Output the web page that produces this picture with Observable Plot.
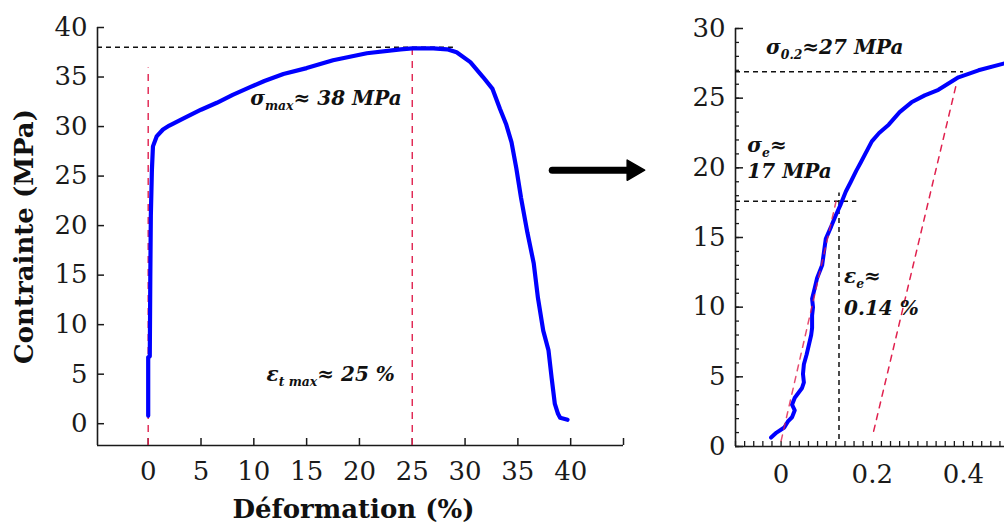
<!DOCTYPE html>
<html><head><meta charset="utf-8">
<script src="https://cdn.jsdelivr.net/npm/d3@7"></script>
<script src="https://cdn.jsdelivr.net/npm/@observablehq/plot@0.6"></script>
<style>
html,body{margin:0;padding:0;background:#fff;}
#wrap{position:relative;width:1004px;height:528px;overflow:hidden;background:#fff;}
#left{position:absolute;left:0;top:0;}
#right{position:absolute;left:650px;top:0;}
</style></head><body><div id="wrap"><div id="left"></div><div id="right"></div></div>
<script>
// ---- Left panel: full tensile curve (strain %, stress MPa)
const leftStrain = [0, 0, 0.15, 0.2, 0.25, 0.35, 0.45, 0.8, 1.4, 2, 3.3, 5, 6.5, 8, 9.7, 11, 12.8, 15, 17.5, 20.7, 23.9, 25, 27, 28.3, 29.2, 30.5, 31.7, 32.6, 33.3, 33.9, 34.4, 34.85, 35.3, 35.9, 36.5, 36.9, 37.4, 37.9, 38.2, 38.5, 38.8, 39, 39.7];
const leftStress = [0.8, 6.7, 6.8, 15, 21, 25.6, 28, 29, 29.7, 30.1, 30.8, 31.7, 32.4, 33.2, 34, 34.6, 35.3, 35.9, 36.7, 37.4, 37.8, 37.9, 37.9, 37.8, 37.5, 36.5, 35, 33.8, 31.8, 30.2, 28.4, 25.8, 22.8, 19.3, 16.2, 12.7, 9.4, 7.4, 4.6, 2.0, 1.0, 0.6, 0.4];
const leftXTicks = [0, 5, 10, 15, 20, 25, 30, 35, 40, 45];
const leftYTicks = [0, 5, 10, 15, 20, 25, 30, 35, 40];
const sigmaMax = 38, epsAtMax = 25, epsMaxLineEnd = 28.9, zeroLineTop = 35.9;
const leftNotes = [
  {x: 9.66, y: 32.8, text: "σ{max}≈ 38 MPa"},
  {x: 11.2, y: 4.95, text: "ε{t max}≈ 25 %"}
];
const arrowX = [38.3, 45.6], arrowHeadX = 45.9, arrowY = 25.6;

// ---- Right panel: zoom on the elastic part
const rightStrain = [-0.022, -0.01, 0.007, 0.015, 0.024, 0.03, 0.024, 0.03, 0.046, 0.05, 0.048, 0.05, 0.056, 0.061, 0.066, 0.068, 0.068, 0.07, 0.068, 0.074, 0.079, 0.09, 0.098, 0.11, 0.12, 0.131, 0.142, 0.153, 0.165, 0.175, 0.199, 0.215, 0.236, 0.26, 0.286, 0.315, 0.345, 0.389, 0.433, 0.49];
const rightStress = [0.64, 1.0, 1.36, 1.8, 2.1, 2.6, 3.0, 3.5, 4.2, 4.6, 5.2, 5.9, 6.6, 7.3, 8.0, 8.5, 9.4, 10.0, 10.6, 11.4, 12.1, 13.0, 14.9, 15.8, 16.6, 17.4, 18.3, 19.0, 19.8, 20.4, 21.9, 22.5, 23.1, 24.0, 24.7, 25.2, 25.6, 26.5, 27.0, 27.5];
const rightXLabels = [0, 0.2, 0.4];
const rightXMinor = d3.range(-5, 25).map(i => +(i * 0.02).toFixed(2));
const rightYLabels = [0, 5, 10, 15, 20, 25, 30];
const rightYMinor = d3.range(0, 31);
const sigma02 = 26.9, sigma02End = 0.40;
const sigmaE = 17.6, sigmaEEnd = 0.166;
const epsE = 0.127, epsELine = [0.5, 18.2];
const elasticLine = [{x: 0.0, y: 0.4}, {x: 0.122, y: 17.8}];
const offsetLine = [{x: 0.203, y: 1.1}, {x: 0.385, y: 26.1}];
const rightNotes = [
  {x: -0.033, y: 28.6, text: "σ{0.2}≈27 MPa"},
  {x: -0.074, y: 21.6, text: "σ{e}≈"},
  {x: -0.074, y: 19.7, text: "17 MPa"},
  {x: 0.138, y: 12.2, text: "ε{e}≈"},
  {x: 0.138, y: 9.9, text: "0.14 %"}
];

const serif = "'DejaVu Serif', 'Liberation Serif', serif";
const axisColor = "#1a1a1a";
const red = "#e0214e";
const noteStyle = {fontSize: 20, fontWeight: "bold", fontStyle: "italic", textAnchor: "start", lineAnchor: "middle", fill: "#111"};

const leftCurve = leftStrain.map((x, i) => ({x, y: leftStress[i]}));
const rightCurve = rightStrain.map((x, i) => ({x, y: rightStress[i]}));

function richify(svg) {
  d3.select(svg).selectAll("text").each(function() {
    const t = this.textContent;
    if (!t.includes("{")) return;
    const el = d3.select(this);
    el.text(null);
    let shifted = false;
    for (const p of t.split(/(\{[^}]*\})/)) {
      if (!p) continue;
      if (p.startsWith("{")) {
        el.append("tspan").attr("font-size", "0.62em").attr("dy", 5).text(p.slice(1, -1));
        shifted = true;
      } else {
        const ts = el.append("tspan").text(p);
        if (shifted) { ts.attr("dy", -5); shifted = false; }
      }
    }
  });
}

const left = Plot.plot({
  width: 650, height: 528,
  marginLeft: 97, marginRight: 27, marginTop: 27, marginBottom: 83,
  style: {fontFamily: serif, fontSize: "26px", color: axisColor, background: "transparent", overflow: "visible"},
  x: {domain: [-4.8, 45]},
  y: {domain: [-2.2, 40]},
  marks: [
    Plot.ruleY([-2.2], {stroke: axisColor, strokeWidth: 1.6}),
    Plot.ruleX([-4.8], {stroke: axisColor, strokeWidth: 1.6}),
    Plot.axisX(leftXTicks, {tickSize: -7, tickPadding: 23, strokeWidth: 1.5, tickFormat: d => d === 45 ? "" : String(d), label: null}),
    Plot.axisY(leftYTicks, {tickSize: -7, tickPadding: 17, strokeWidth: 1.5, label: null}),
    Plot.text(["Déformation (%)"], {frameAnchor: "bottom", dy: 64, dx: -7, fontWeight: "bold", fontSize: 26, lineAnchor: "middle", textAnchor: "middle", fill: "#111"}),
    Plot.text(["Contrainte (MPa)"], {frameAnchor: "left", dx: -73, rotate: -90, fontWeight: "bold", fontSize: 26, lineAnchor: "middle", textAnchor: "middle", fill: "#111"}),
    Plot.ruleY([sigmaMax], {x1: -4.8, x2: epsMaxLineEnd, stroke: "#111", strokeWidth: 1.5, strokeDasharray: "5,4"}),
    Plot.ruleX([0], {y1: -2.2, y2: zeroLineTop, stroke: red, strokeWidth: 1.4, strokeDasharray: "7,6"}),
    Plot.ruleX([epsAtMax], {y1: -2.2, y2: sigmaMax, stroke: red, strokeWidth: 1.4, strokeDasharray: "7,6"}),
    Plot.line(leftCurve, {x: "x", y: "y", stroke: "#0000ff", strokeWidth: 4.2, strokeLinejoin: "round", strokeLinecap: "round"}),
    Plot.text(leftNotes, {x: "x", y: "y", text: "text", ...noteStyle}),
    Plot.ruleY([arrowY], {x1: arrowX[0], x2: arrowX[1], stroke: "#000", strokeWidth: 7, strokeLinecap: "round"}),
    Plot.dot([arrowHeadX], {x: d => d, y: () => arrowY, symbol: "triangle", r: 7.5, rotate: 90, fill: "#000", stroke: "#000", strokeWidth: 1.5, strokeLinejoin: "round"})
  ]
});
richify(left);
document.getElementById("left").append(left);

const right = Plot.plot({
  width: 354, height: 528,
  marginLeft: 85, marginRight: 0, marginTop: 28, marginBottom: 82,
  style: {fontFamily: serif, fontSize: "26px", color: axisColor, background: "transparent", overflow: "visible"},
  x: {domain: [-0.1, 0.49]},
  y: {domain: [0, 30]},
  marks: [
    Plot.ruleY([0], {stroke: axisColor, strokeWidth: 1.6}),
    Plot.ruleX([-0.1], {stroke: axisColor, strokeWidth: 1.6}),
    Plot.axisX(rightXMinor, {tickSize: -5, tickFormat: () => "", label: null, strokeWidth: 1.3}),
    Plot.axisX(rightXLabels, {tickSize: 0, tickPadding: 18, tickFormat: d => String(d), label: null}),
    Plot.axisY(rightYMinor, {tickSize: -4, tickFormat: () => "", label: null, strokeWidth: 1.3}),
    Plot.axisY(rightYLabels, {tickSize: -8, tickPadding: 18, strokeWidth: 1.5, label: null}),
    Plot.ruleY([sigma02], {x1: -0.1, x2: sigma02End, stroke: "#111", strokeWidth: 1.5, strokeDasharray: "5,4"}),
    Plot.ruleY([sigmaE], {x1: -0.1, x2: sigmaEEnd, stroke: "#111", strokeWidth: 1.5, strokeDasharray: "5,4"}),
    Plot.ruleX([epsE], {y1: epsELine[0], y2: epsELine[1], stroke: "#111", strokeWidth: 1.5, strokeDasharray: "5,4"}),
    Plot.line(offsetLine, {x: "x", y: "y", stroke: red, strokeWidth: 1.5, strokeDasharray: "6,6"}),
    Plot.line(rightCurve, {x: "x", y: "y", stroke: "#0000ff", strokeWidth: 4, strokeLinejoin: "round", strokeLinecap: "round"}),
    Plot.line(elasticLine, {x: "x", y: "y", stroke: red, strokeWidth: 1.5, strokeDasharray: "6,6", strokeOpacity: 0.8}),
    Plot.text(rightNotes, {x: "x", y: "y", text: "text", ...noteStyle})
  ]
});
richify(right);
document.getElementById("right").append(right);
</script></body></html>
